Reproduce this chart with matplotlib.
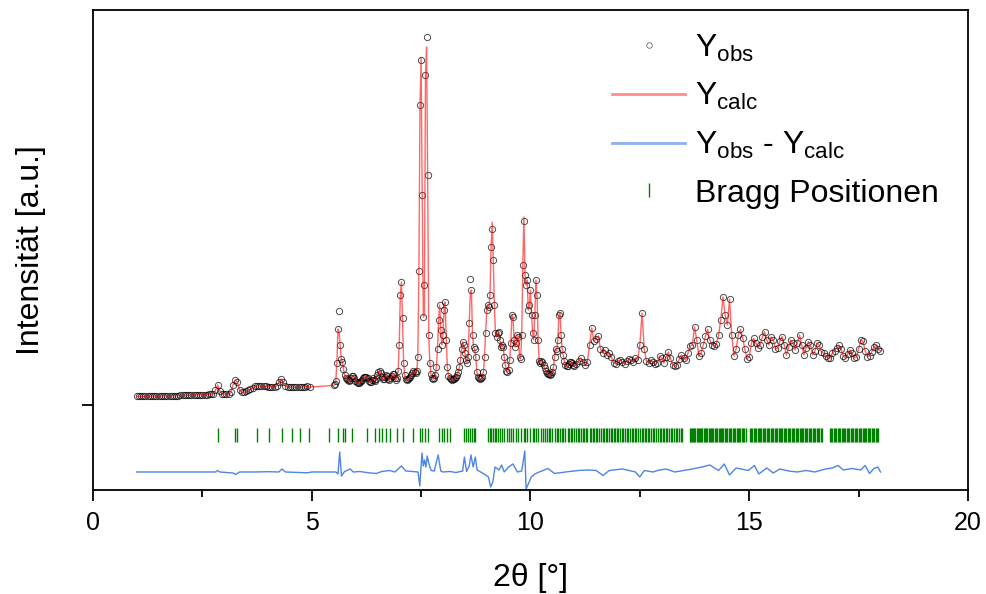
import numpy as np
import matplotlib.pyplot as plt
from matplotlib.lines import Line2D

plt.rcParams['font.family'] = ['Liberation Sans', 'DejaVu Sans']
plt.rcParams['mathtext.fontset'] = 'custom'
plt.rcParams['mathtext.rm'] = 'Liberation Sans'
plt.rcParams['mathtext.it'] = 'Liberation Sans:italic'

# measuring grid in 2theta (finer step in the peak region)
tt = np.round(np.concatenate([1.0 + 0.05 * np.arange(80),
                              5.5 + 0.025 * np.arange(220),
                              11.0 + 0.05 * np.arange(141)]), 3)

y_obs = [
    # 1.00 - 5.45
    85, 85, 86, 86, 87, 87, 88, 88, 89, 89,
    90, 90, 91, 91, 92, 92, 93, 93, 94, 94,
    95, 96, 96, 97, 98, 98, 99, 100, 100, 101,
    102, 103, 104, 105, 107, 112, 150, 200, 140, 112,
    110, 110, 112, 125, 200, 250, 230, 150, 125, 128,
    135, 145, 158, 172, 185, 192, 190, 188, 187, 185,
    184, 183, 182, 183, 190, 230, 260, 225, 190, 178,
    176, 175, 175, 176, 176, 177, 178, 182, 188, 180,
    # 5.500 - 10.975
    195, 205, 240, 420, 760, 940, 600, 460, 430, 360,
    300, 270, 255, 245, 238, 245, 265, 285, 290, 270,
    240, 228, 222, 220, 225, 235, 250, 270, 283, 275,
    283, 265, 240, 228, 230, 245, 265, 250, 240, 260,
    300, 330, 340, 320, 280, 255, 260, 275, 300, 290,
    260, 245, 265, 290, 310, 305, 270, 250, 270, 340,
    600, 1100, 1230, 870, 420, 300, 260, 250, 255, 265,
    280, 300, 320, 340, 330, 320, 340, 480, 1340, 3000,
    3450, 2100, 880, 1200, 3300, 3680, 2300, 700, 420, 310,
    270, 260, 270, 300, 380, 560, 850, 1000, 750, 600,
    700, 950, 1030, 650, 380, 290, 265, 255, 250, 255,
    260, 270, 280, 300, 330, 380, 450, 560, 630, 600,
    520, 450, 420, 480, 820, 1260, 1150, 700, 580, 560,
    480, 330, 280, 265, 260, 265, 280, 330, 480, 720,
    950, 1000, 980, 1100, 1580, 1760, 1450, 1000, 720, 680,
    720, 730, 650, 580, 600, 580, 480, 400, 340, 330,
    350, 450, 620, 900, 880, 650, 580, 620, 700, 680,
    480, 460, 700, 1400, 1840, 1300, 1200, 1250, 950, 1000,
    1150, 900, 720, 650, 900, 1250, 1100, 650, 440, 420,
    440, 430, 400, 370, 340, 320, 310, 305, 300, 310,
    330, 380, 480, 560, 540, 650, 900, 920, 700, 560,
    500, 440, 400, 385, 390, 410, 425, 430, 420, 400,
    # 11.00 - 18.00
    390, 410, 440, 470, 430, 395, 430, 600, 770, 640,
    660, 690, 560, 520, 550, 500, 520, 480, 420, 410,
    440, 450, 430, 410, 440, 455, 450, 430, 470, 450,
    600, 920, 560, 440, 420, 450, 430, 410, 420, 490,
    470, 420, 480, 530, 470, 400, 385, 400, 460, 500,
    470, 450, 520, 590, 600, 780, 650, 490, 520, 600,
    690, 757, 650, 600, 590, 610, 700, 850, 1080, 900,
    800, 1060, 700, 490, 560, 700, 757, 670, 560, 460,
    480, 620, 667, 620, 570, 600, 680, 733, 650, 600,
    680, 650, 560, 570, 640, 683, 600, 500, 580, 650,
    620, 550, 620, 700, 600, 500, 570, 633, 600, 500,
    540, 620, 600, 530, 517, 490, 470, 467, 520, 540,
    570, 600, 560, 490, 467, 510, 550, 520, 470, 480,
    560, 650, 640, 540, 483, 490, 530, 580, 600, 560,
    540,
]

# points where the calculated curve visibly departs from the observed one
calc_changes = {5.625: 730, 7.5: 3470, 7.575: 900, 7.625: 3580,
                8.625: 1120, 9.125: 1830, 9.85: 1880}

# difference curve Yobs - Ycalc
diff_x = [1.0, 2.8, 2.85, 2.9, 3.2, 3.26, 3.35, 3.7, 4.0, 4.25, 4.32, 4.4, 4.9, 5.0,
          5.55, 5.6, 5.64, 5.68, 5.75, 5.88, 5.95, 6.1, 6.3, 6.48, 6.6, 6.78, 6.9,
          7.05, 7.15, 7.3, 7.43, 7.47, 7.52, 7.55, 7.58, 7.61, 7.64, 7.68, 7.73,
          7.8, 7.89, 7.95, 8.0, 8.15, 8.3, 8.45, 8.49, 8.54, 8.6, 8.64, 8.69, 8.74,
          8.78, 8.9, 9.04, 9.09, 9.14, 9.19, 9.28, 9.34, 9.4, 9.5, 9.6, 9.7, 9.8,
          9.87, 9.9, 9.95, 10.02, 10.1, 10.2, 10.4, 10.55, 10.8, 11.1, 11.3, 11.5,
          11.66, 11.8, 12.1, 12.3, 12.4, 12.5, 12.6, 12.8, 12.9, 13.1, 13.3, 13.5,
          13.7, 13.92, 14.1, 14.3, 14.43, 14.55, 14.7, 14.98, 15.12, 15.22, 15.4,
          15.55, 15.7, 15.9, 16.1, 16.3, 16.5, 16.74, 16.9, 17.03, 17.15, 17.35,
          17.55, 17.65, 17.75, 17.85, 17.94, 18.0]
diff_y = [0, 0, 15, 0, -10, -25, 0, 0, 3, 0, 30, 0, -8, 0,
          0, -20, 200, -40, 5, 30, 0, 5, -8, -15, 5, 15, 0,
          60, 10, 5, 0, -140, 190, 60, 120, 50, 160, 80, 15,
          10, 170, 10, 0, 5, -5, 10, 150, 5, 60, 170, 50, 150,
          20, -10, -50, -150, -100, 50, 20, 70, 0, 50, 80, 0, 10,
          210, -170, -120, -50, -20, 0, 35, -15, 0, 15, 20, 15,
          -35, 15, 30, 10, 0, -50, 15, 0, 15, 30, 0, 15,
          30, 50, 70, 15, 80, -30, 40, 15, 65, -20, 40,
          -10, 30, 10, 0, 15, 0, 30, 40, 65, 20, 35,
          20, 65, -15, 35, 50, 0]

# Bragg reflections
bragg = [2.85, 3.25, 3.29, 3.76, 4.02, 4.33, 4.55, 4.73, 4.93, 5.40, 5.61, 5.72, 5.75,
         5.92, 6.26, 6.45, 6.53, 6.61, 6.70, 6.80, 6.95, 7.08, 7.31, 7.48, 7.53, 7.58,
         7.66, 7.92, 7.97, 8.02, 8.09, 8.17, 8.49, 8.53, 8.57, 8.61, 8.66, 8.70, 8.74,
         9.04, 9.07, 9.10, 9.14, 9.18, 9.22, 9.25, 9.30, 9.35, 9.39, 9.47, 9.52, 9.56,
         9.60, 9.66, 9.72, 9.78, 9.85, 9.88, 9.93, 10.00, 10.05, 10.09, 10.12, 10.18,
         10.24, 10.28, 10.33, 10.38, 10.42, 10.45, 10.50, 10.55, 10.60, 10.63, 10.67,
         10.72, 10.75, 10.80, 10.85, 10.88, 10.92, 10.96, 11.00, 11.04, 11.08, 11.11,
         11.15, 11.19, 11.23, 11.27, 11.30, 11.35, 11.39, 11.42, 11.46, 11.50, 11.53,
         11.57, 11.61, 11.65, 11.68, 11.72, 11.76, 11.80, 11.83, 11.87, 11.90, 11.94,
         11.98, 12.01, 12.05, 12.09, 12.12, 12.16, 12.20, 12.23, 12.27, 12.31, 12.35,
         12.38, 12.42, 12.46, 12.50, 12.54, 12.57, 12.61, 12.65, 12.69, 12.72, 12.76,
         12.80, 12.83, 12.87, 12.91, 12.95, 12.98, 13.02, 13.06, 13.10, 13.13, 13.17,
         13.21, 13.24, 13.28, 13.32, 13.36, 13.39, 13.43, 13.47, 13.64, 13.66, 13.69,
         13.71, 13.74, 13.77, 13.80, 13.82, 13.85, 13.88, 13.90, 13.93, 13.96, 13.99,
         14.01, 14.04, 14.07, 14.10, 14.12, 14.15, 14.18, 14.21, 14.24, 14.27, 14.30,
         14.33, 14.35, 14.38, 14.41, 14.44, 14.47, 14.50, 14.53, 14.56, 14.59, 14.62,
         14.65, 14.68, 14.71, 14.74, 14.77, 14.80, 14.83, 14.86, 14.89, 14.92, 15.01,
         15.04, 15.07, 15.10, 15.13, 15.16, 15.19, 15.22, 15.25, 15.28, 15.31, 15.34,
         15.37, 15.40, 15.43, 15.46, 15.49, 15.52, 15.55, 15.58, 15.61, 15.64, 15.67,
         15.70, 15.73, 15.76, 15.79, 15.82, 15.85, 15.88, 15.91, 15.94, 15.97, 16.00,
         16.03, 16.06, 16.09, 16.12, 16.15, 16.18, 16.21, 16.24, 16.27, 16.30, 16.33,
         16.36, 16.39, 16.42, 16.45, 16.48, 16.51, 16.54, 16.57, 16.60, 16.63, 16.66,
         16.85, 16.87, 16.90, 16.93, 16.96, 16.99, 17.02, 17.05, 17.08, 17.11, 17.14,
         17.17, 17.20, 17.23, 17.26, 17.29, 17.32, 17.35, 17.38, 17.41, 17.44, 17.47,
         17.50, 17.53, 17.56, 17.59, 17.62, 17.65, 17.68, 17.71, 17.74, 17.77, 17.80,
         17.83, 17.86, 17.89, 17.92, 17.95]

diff_offset = -670   # baseline of the difference curve
bragg_level = -300   # height of the reflection markers

y_obs = np.array(y_obs, dtype=float)
y_calc = y_obs.copy()
for pos, val in calc_changes.items():
    y_calc[np.isclose(tt, pos)] = val

fig = plt.figure(figsize=(9.86, 5.94), dpi=100)
ax = fig.add_axes([0.0943, 0.1751, 0.8874, 0.8081])

ax.plot(tt, y_obs, 'o', mfc='none', mec='black', mew=0.7, ms=4.5, alpha=0.7)
ax.plot(tt, y_calc, color='red', lw=1, alpha=0.6)
ax.plot(diff_x, np.array(diff_y) + diff_offset, color='#2f6fe0', lw=1, alpha=0.85)
ax.plot(bragg, [bragg_level] * len(bragg), '|', color='green', ms=10, mew=1)

ax.set_xlim(0, 20)
ax.set_ylim(-850, 3950)
ax.set_xticks([0, 5, 10, 15, 20])
ax.set_xticks([2.5, 7.5, 12.5, 17.5], minor=True)
ax.set_yticks([0])
ax.tick_params(axis='x', which='major', length=8, width=1.3, labelsize=18, pad=7)
ax.tick_params(axis='x', which='minor', length=5, width=1.3)
ax.tick_params(axis='y', length=8, width=1.3, labelleft=False)
for sp in ax.spines.values():
    sp.set_linewidth(1.3)

ax.set_xlabel('2θ [°]', fontsize=23, labelpad=20)
ax.set_ylabel('Intensität [a.u.]', fontsize=23, labelpad=26)

handles = [
    Line2D([], [], marker='o', ls='none', mfc='none', mec='black', mew=0.6, ms=4, alpha=0.6),
    Line2D([], [], color='red', lw=2, alpha=0.45),
    Line2D([], [], color='#2f6fe0', lw=2, alpha=0.55),
    Line2D([], [], marker='|', ls='none', color='green', ms=10, mew=1),
]
labels = [r'Y$_{\mathrm{obs}}$', r'Y$_{\mathrm{calc}}$',
          r'Y$_{\mathrm{obs}}$ - Y$_{\mathrm{calc}}$', 'Bragg Positionen']
ax.legend(handles, labels, loc='upper left', bbox_to_anchor=(0.593, 0.953),
          frameon=False, fontsize=23, handlelength=2.3, handletextpad=0.3,
          labelspacing=0.55, borderpad=0, borderaxespad=0)

plt.savefig('out.png', dpi=100)
